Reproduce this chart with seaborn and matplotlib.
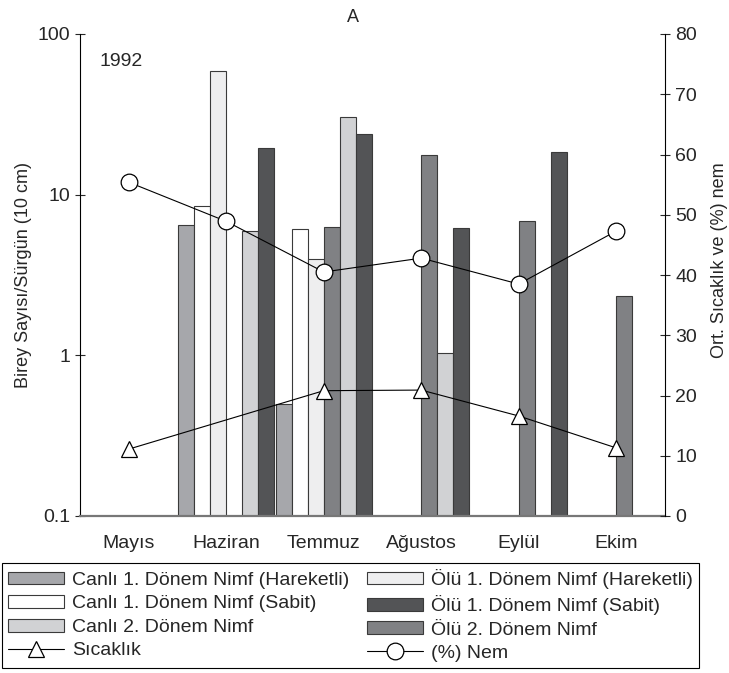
import numpy as np
import pandas as pd
import matplotlib
matplotlib.use('Agg')
import matplotlib.pyplot as plt
from matplotlib.ticker import FixedLocator, FuncFormatter, NullLocator, MultipleLocator
import seaborn as sns

months = ['Mayıs', 'Haziran', 'Temmuz', 'Ağustos', 'Eylül', 'Ekim']

# birey sayisi / surgun (log eksen)
canli1_hareketli = [np.nan, 6.5, 0.5, np.nan, np.nan, np.nan]
canli1_sabit = [np.nan, 8.5, 6.1, np.nan, np.nan, np.nan]
olu1_hareketli = [np.nan, 58.5, 3.95, np.nan, np.nan, np.nan]
olu2 = [np.nan, np.nan, 6.3, 17.6, 6.9, 2.35]
canli2 = [np.nan, 5.9, 30.5, 1.03, np.nan, np.nan]
olu1_sabit = [np.nan, 19.5, 23.9, 6.2, 18.3, np.nan]

# iklim (sag eksen)
sicaklik = [11.1, np.nan, 20.8, 20.9, 16.6, 11.3]
nem = [55.4, 48.9, 40.5, 42.8, 38.5, 47.3]

series_names = ['Canlı 1. Dönem Nimf (Hareketli)', 'Canlı 1. Dönem Nimf (Sabit)',
                'Ölü 1. Dönem Nimf (Hareketli)', 'Ölü 2. Dönem Nimf',
                'Canlı 2. Dönem Nimf', 'Ölü 1. Dönem Nimf (Sabit)']
series_values = [canli1_hareketli, canli1_sabit, olu1_hareketli, olu2, canli2, olu1_sabit]
series_colors = ['#a6a7ab', '#ffffff', '#eeeeef', '#808184', '#d1d2d4', '#535456']

rows = []
for name, vals in zip(series_names, series_values):
    for m, v in zip(months, vals):
        rows.append({'Ay': m, 'Seri': name, 'Deger': v})
df = pd.DataFrame(rows)

sns.set_style('white')
plt.rcParams['font.family'] = ['Liberation Sans', 'DejaVu Sans']
plt.rcParams['axes.edgecolor'] = 'black'

fig, ax = plt.subplots(figsize=(7.29, 6.73), dpi=100)
fig.subplots_adjust(left=80 / 729, right=665 / 729, top=1 - 34 / 673, bottom=1 - 516 / 673)

ax.set_yscale('log')
sns.barplot(data=df, x='Ay', y='Deger', hue='Seri', order=months, hue_order=series_names,
            palette=series_colors, saturation=1, width=0.98, errorbar=None,
            edgecolor='#3a3a3a', linewidth=0.8, ax=ax)
handles, labels = ax.get_legend_handles_labels()
ax.get_legend().remove()

ax.set_ylim(0.1, 100)
ax.set_xlim(-0.5, 5.5)
ax.yaxis.set_major_locator(FixedLocator([0.1, 1, 10, 100]))
ax.yaxis.set_major_formatter(FuncFormatter(lambda v, p: f'{v:g}'))
ax.yaxis.set_minor_locator(NullLocator())
ax.set_xlabel('')
ax.set_ylabel('Birey Sayısı/Sürgün (10 cm)', fontsize=13)
ax.tick_params(axis='x', length=0, pad=14, labelsize=14)
ax.tick_params(axis='y', direction='inout', length=6.5, width=0.8, labelsize=14, pad=4)
ax.spines['top'].set_visible(False)
ax.spines['right'].set_visible(False)
ax.spines['bottom'].set_color('#777777')
ax.spines['bottom'].set_linewidth(1.6)
ax.spines['left'].set_linewidth(0.8)

ax2 = ax.twinx()
temp = pd.DataFrame({'x': range(len(months)), 'y': sicaklik}).dropna()
hum = pd.DataFrame({'x': range(len(months)), 'y': nem}).dropna()
sns.lineplot(data=temp, x='x', y='y', color='black', linewidth=0.8, marker='^', markersize=12,
             markerfacecolor='white', markeredgecolor='black', markeredgewidth=0.9,
             label='Sıcaklık', ax=ax2)
sns.lineplot(data=hum, x='x', y='y', color='black', linewidth=0.8, marker='o', markersize=12,
             markerfacecolor='white', markeredgecolor='black', markeredgewidth=0.9,
             label='(%) Nem', ax=ax2)
h2, l2 = ax2.get_legend_handles_labels()
ax2.get_legend().remove()

ax2.set_ylim(0, 80)
ax2.yaxis.set_major_locator(MultipleLocator(10))
ax2.set_xlabel('')
ax2.set_ylabel('Ort. Sıcaklık ve (%) nem', fontsize=13)
ax2.yaxis.set_label_coords(1.078, 0.531)
ax2.tick_params(axis='y', direction='inout', length=6.5, width=0.8, labelsize=14, pad=4)
for s in ['top', 'left', 'bottom']:
    ax2.spines[s].set_visible(False)
ax2.spines['right'].set_linewidth(0.8)
ax.set_xlim(-0.5, 5.5)

ax.text(0.034, 0.942, '1992', transform=ax.transAxes, fontsize=14, va='center', ha='left')
fig.text(353 / 729, 1 - 18 / 673, 'A', ha='center', va='center', fontsize=13)

lookup = dict(zip(labels + l2, handles + h2))
leg_order = ['Canlı 1. Dönem Nimf (Hareketli)', 'Canlı 1. Dönem Nimf (Sabit)',
             'Canlı 2. Dönem Nimf', 'Sıcaklık',
             'Ölü 1. Dönem Nimf (Hareketli)', 'Ölü 1. Dönem Nimf (Sabit)',
             'Ölü 2. Dönem Nimf', '(%) Nem']
leg = fig.legend([lookup[k] for k in leg_order], leg_order, loc='upper left',
                 bbox_to_anchor=(2 / 729, 1 - 563 / 673),
                 ncol=2, fontsize=14, frameon=True, fancybox=False,
                 edgecolor='black', framealpha=1, borderaxespad=0, borderpad=0.3,
                 labelspacing=0.32, handlelength=2.9, handleheight=0.65, handletextpad=0.4,
                 columnspacing=0.9)
leg.get_frame().set_linewidth(0.8)

fig.savefig('out.png', dpi=100)
